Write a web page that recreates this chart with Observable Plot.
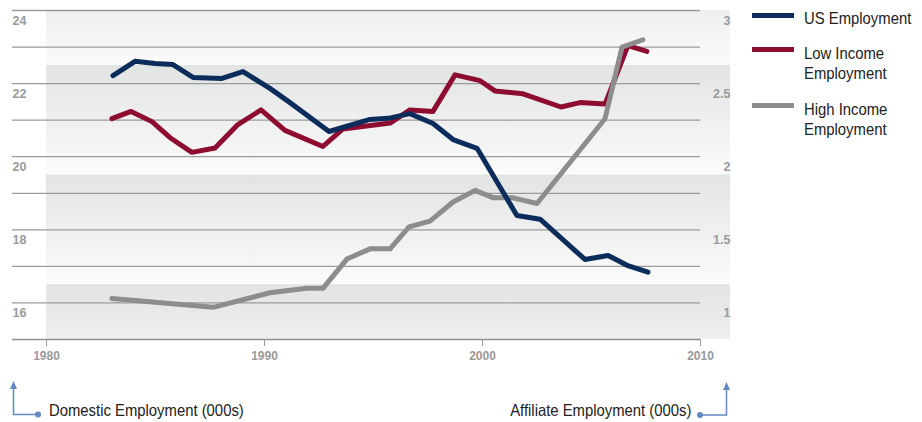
<!DOCTYPE html>
<html>
<head>
<meta charset="utf-8">
<script src="https://cdn.jsdelivr.net/npm/d3@7"></script>
<script src="https://cdn.jsdelivr.net/npm/@observablehq/plot@0.6"></script>
<style>
  html, body { margin: 0; padding: 0; background: #fff; }
  #wrap { position: relative; width: 922px; height: 422px; overflow: hidden;
    font-family: "Liberation Sans", Arial, sans-serif; }
  .legend { position: absolute; left: 752px; top: 0; }
  .sw { position: absolute; left: 0; width: 42px; height: 5px; }
  .lt { position: absolute; left: 52px; font-size: 16.5px; line-height: 20px; color: #222; white-space: nowrap;
        transform: scaleX(0.9); transform-origin: 0 0; }
  .cap { position: absolute; font-size: 16.5px; color: #222; white-space: nowrap; line-height: 20px; }
</style>
</head>
<body>
<div id="wrap"></div>
<script>
// ---- data ----
const seriesNames = ["US Employment", "Low Income Employment", "High Income Employment"];
const seriesColors = ["#0c2d5b", "#8e0c2f", "#8d8d8d"];

// US Employment (left axis, domestic, 000s)
const usYears  = [1983.05,1984.06,1984.98,1985.80,1986.72,1988.05,1989.01,1990.25,1991.17,1992.96,1994.84,1995.67,1996.67,1997.73,1998.65,1999.75,2001.58,2002.64,2004.70,2005.76,2006.63,2007.59];
const usValues = [22.22,22.61,22.55,22.52,22.17,22.14,22.33,21.87,21.48,20.69,21.02,21.05,21.18,20.91,20.47,20.23,18.39,18.29,17.19,17.30,17.03,16.84];

// Low Income Employment (right axis, affiliate, 000s)
const lowYears  = [1983.00,1983.88,1984.84,1985.67,1986.67,1987.73,1988.78,1989.84,1990.94,1992.68,1993.60,1995.76,1996.67,1997.73,1998.74,1999.89,2000.57,2001.86,2003.60,2004.47,2005.62,2006.67,2007.54];
const lowValues = [2.26,2.31,2.24,2.13,2.03,2.06,2.22,2.32,2.18,2.07,2.19,2.23,2.32,2.31,2.56,2.52,2.45,2.43,2.34,2.37,2.36,2.76,2.72];

// High Income Employment (right axis, affiliate, 000s)
const highYears  = [1983.00,1987.64,1990.25,1991.95,1992.68,1993.78,1994.84,1995.76,1996.63,1997.59,1998.65,1999.66,2000.48,2001.35,2002.50,2005.62,2006.40,2007.36];
const highValues = [1.03,0.97,1.07,1.10,1.10,1.30,1.37,1.37,1.52,1.56,1.69,1.77,1.72,1.72,1.68,2.26,2.75,2.80];

const xTicks = [1980, 1990, 2000, 2010];
const leftTicks = [24, 22, 20, 18, 16];
const rightTicks = [3, 2.5, 2, 1.5, 1];
const leftDomain = [15, 24];
const xDomain = [1980, 2010];

// right axis value r corresponds to left value 12 + 4r
const rightToLeft = r => 12 + 4 * r;

// ---- layout ----
const W = 922, H = 422;
const mL = 46, mR = 222, mT = 10, mB = 83;
const pxPerYear = (W - mL - mR) / (xDomain[1] - xDomain[0]);
const gridStartX = xDomain[0] - 34 / pxPerYear;   // gridlines start left of the frame
const bandEndX = xDomain[1] + 30 / pxPerYear;      // shading extends under right labels

const us = usYears.map((x, i) => ({x, y: usValues[i]}));
const low = lowYears.map((x, i) => ({x, y: rightToLeft(lowValues[i])}));
const high = highYears.map((x, i) => ({x, y: rightToLeft(highValues[i])}));

const gridVals = d3.range(leftDomain[0] + 1, leftDomain[1] + 1, 1);
const fullBands = [{y1: 19.5, y2: 22.5}, {y1: 16.5, y2: 19.5}];
const topBand = [{y1: 22.5, y2: 24}];
const bottomBand = [{y1: 15, y2: 16.5}];

const font = '"Liberation Sans", Arial, sans-serif';

const chart = Plot.plot({
  width: W, height: H,
  marginLeft: mL, marginRight: mR, marginTop: mT, marginBottom: mB,
  x: {domain: xDomain, label: null},
  y: {domain: leftDomain, axis: null, label: null},
  style: {fontFamily: font, background: "transparent", overflow: "visible"},
  marks: [
    Plot.rect(fullBands, {x1: () => xDomain[0], x2: () => bandEndX, y1: "y1", y2: "y2", fill: "url(#bandFull)"}),
    Plot.rect(topBand, {x1: () => xDomain[0], x2: () => bandEndX, y1: "y1", y2: "y2", fill: "url(#bandTop)"}),
    Plot.rect(bottomBand, {x1: () => xDomain[0], x2: () => bandEndX, y1: "y1", y2: "y2", fill: "url(#bandBottom)"}),
    Plot.ruleY(gridVals, {y: d => d, x1: () => gridStartX, x2: () => xDomain[1], stroke: "#9b9b9b", strokeWidth: 1.3}),
    Plot.ruleY([leftDomain[0]], {y: d => d, x1: () => gridStartX, x2: () => xDomain[1], stroke: "#8f8f8f", strokeWidth: 1.4}),
    Plot.axisX({ticks: xTicks, tickFormat: d => String(d), tickSize: 7, tickPadding: 5, label: null,
      fontSize: 12, fontWeight: "bold", color: "#9a9a9a", stroke: "#9a9a9a"}),
    Plot.text(leftTicks, {x: () => gridStartX, y: d => d, text: d => String(d), dy: 10.5,
      textAnchor: "start", fontSize: 12.5, fontWeight: "bold", fill: "#9a9a9a"}),
    Plot.text(rightTicks, {x: () => xDomain[1], y: d => rightToLeft(d), text: d => String(d), dx: 30, dy: 10.5,
      textAnchor: "end", fontSize: 12.5, fontWeight: "bold", fill: "#9a9a9a"}),
    Plot.line(low, {x: "x", y: "y", stroke: seriesColors[1], strokeWidth: 5, curve: "linear"}),
    Plot.line(high, {x: "x", y: "y", stroke: seriesColors[2], strokeWidth: 5, curve: "linear"}),
    Plot.line(us, {x: "x", y: "y", stroke: seriesColors[0], strokeWidth: 5, curve: "linear"})
  ]
});

// gradients for shaded bands
const defs = d3.select(chart).insert("defs", ":first-child");
function grad(id, c0, c1) {
  const g = defs.append("linearGradient").attr("id", id).attr("x1", 0).attr("y1", 0).attr("x2", 0).attr("y2", 1);
  g.append("stop").attr("offset", "0%").attr("stop-color", c0);
  g.append("stop").attr("offset", "100%").attr("stop-color", c1);
}
grad("bandFull", "#e2e3e3", "#fbfbfb");
grad("bandTop", "#eeefef", "#fbfbfb");
grad("bandBottom", "#e2e3e3", "#efefef");

const wrap = document.getElementById("wrap");
wrap.appendChild(chart);
chart.style.position = "absolute";
chart.style.left = "0px";
chart.style.top = "0px";

// legend
const legend = document.createElement("div");
legend.className = "legend";
const legendLayout = [
  {lines: ["US Employment"], sw: 15, text: 8},
  {lines: ["Low Income", "Employment"], sw: 49, text: 43},
  {lines: ["High Income", "Employment"], sw: 105, text: 99}
];
seriesNames.forEach((name, i) => {
  const L = legendLayout[i];
  const sw = document.createElement("div");
  sw.className = "sw";
  sw.style.top = (L.sw - 2.5) + "px";
  sw.style.background = seriesColors[i];
  legend.appendChild(sw);
  const t = document.createElement("div");
  t.className = "lt";
  t.style.top = L.text + "px";
  t.innerHTML = L.lines.join("<br>");
  legend.appendChild(t);
});
wrap.appendChild(legend);

// axis captions with arrows
const capL = document.createElement("div");
capL.className = "cap";
capL.style.left = "49px";
capL.style.top = "400px";
capL.style.transform = "scaleX(0.9)";
capL.style.transformOrigin = "0 0";
capL.textContent = "Domestic Employment (000s)";
wrap.appendChild(capL);

const capR = document.createElement("div");
capR.className = "cap";
capR.style.right = (W - 691) + "px";
capR.style.top = "400px";
capR.style.transform = "scaleX(0.9)";
capR.style.transformOrigin = "100% 0";
capR.textContent = "Affiliate Employment (000s)";
wrap.appendChild(capR);

const arrows = d3.create("svg").attr("width", W).attr("height", H)
  .style("position", "absolute").style("left", "0px").style("top", "0px");
const ac = "#6488c4";
arrows.append("path").attr("d", "M13.5,388 V414.5 H38").attr("fill", "none").attr("stroke", ac).attr("stroke-width", 1.5);
arrows.append("path").attr("d", "M13.5,381 L10,389 L17,389 Z").attr("fill", ac);
arrows.append("circle").attr("cx", 38).attr("cy", 414.5).attr("r", 3).attr("fill", ac);
arrows.append("path").attr("d", "M700,415 H726.5 V389").attr("fill", "none").attr("stroke", ac).attr("stroke-width", 1.5);
arrows.append("path").attr("d", "M726.5,382 L723,390 L730,390 Z").attr("fill", ac);
arrows.append("circle").attr("cx", 700).attr("cy", 415).attr("r", 3).attr("fill", ac);
wrap.appendChild(arrows.node());
</script>
</body>
</html>
